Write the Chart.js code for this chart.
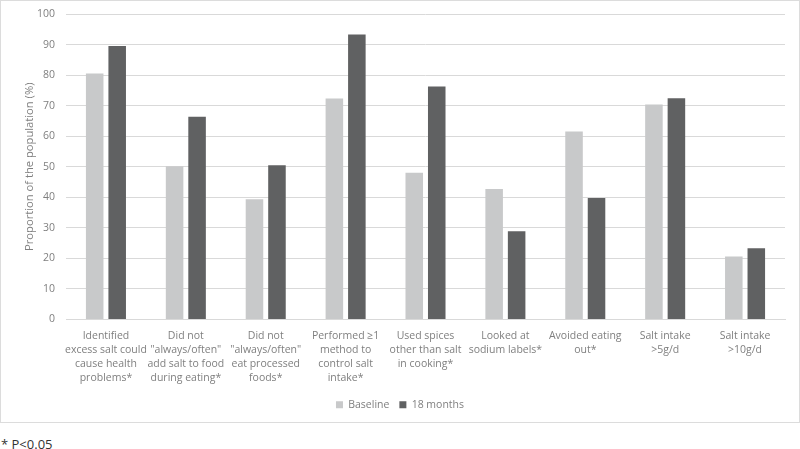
<!DOCTYPE html>
<html>
<head>
<meta charset="utf-8">
<script src="https://cdn.jsdelivr.net/npm/chart.js@4/dist/chart.umd.min.js"></script>
<style>
  html, body { margin: 0; padding: 0; background: #ffffff; width: 800px; height: 449px; overflow: hidden; }
  #box { position: absolute; left: 0; top: 0; width: 798px; height: 421px; border: 1px solid #dcdcdc; }
  #box canvas { display: block; }
  #note { position: absolute; left: 1px; top: 437px; font-family: "Open Sans", sans-serif; font-size: 13px; color: #333333; line-height: 15px; }
</style>
</head>
<body>
<div id="box"><canvas id="c" width="798" height="421"></canvas></div>
<div id="note">* P&lt;0.05</div>
<script>
const categories = [
  ["Identified", "excess salt could", "cause health", "problems*"],
  ["Did not", "\"always/often\"", "add salt to food", "during eating*"],
  ["Did not", "\"always/often\"", "eat processed", "foods*"],
  ["Performed \u22651", "method to", "control salt", "intake*"],
  ["Used spices", "other than salt", "in cooking*"],
  ["Looked at", "sodium labels*"],
  ["Avoided eating", "out*"],
  ["Salt intake", ">5g/d"],
  ["Salt intake", ">10g/d"]
];
const seriesNames = ["Baseline", "18 months"];
const baseline = [80.5, 50.2, 39.4, 72.3, 48.0, 42.7, 61.5, 70.4, 20.6];
const months18 = [89.5, 66.4, 50.5, 93.3, 76.3, 28.9, 39.8, 72.4, 23.3];
const yTicks = [0, 10, 20, 30, 40, 50, 60, 70, 80, 90, 100];

const FONT = "'Open Sans', sans-serif";
const grey = "#7f7f7f";

new Chart(document.getElementById("c"), {
  type: "bar",
  data: {
    labels: categories,
    datasets: [
      { label: seriesNames[0], data: baseline, backgroundColor: "#c8c9ca", borderWidth: 0,
        categoryPercentage: 0.563, barPercentage: 0.78 },
      { label: seriesNames[1], data: months18, backgroundColor: "#606162", borderWidth: 0,
        categoryPercentage: 0.563, barPercentage: 0.78 }
    ]
  },
  options: {
    responsive: false,
    animation: false,
    devicePixelRatio: 1,
    layout: { padding: { left: 14, right: 14, top: 13, bottom: 2 } },
    plugins: {
      tooltip: { enabled: false },
      legend: {
        position: "bottom",
        labels: {
          boxWidth: 7, boxHeight: 7, padding: 10,
          color: grey,
          font: { family: FONT, size: 10.5 }
        }
      }
    },
    scales: {
      x: {
        grid: { display: false, drawTicks: false },
        border: { display: true, color: "#d9d9d9", width: 1 },
        ticks: {
          color: grey, padding: 9, maxRotation: 0, autoSkip: false,
          font: { family: FONT, size: 10.5, lineHeight: 1.35 }
        },
        afterFit: (s) => { s.height = 70; }
      },
      y: {
        min: 0, max: 100,
        afterBuildTicks: (s) => { s.ticks = yTicks.map(v => ({ value: v })); },
        grid: { color: "#d9d9d9", lineWidth: 1, drawTicks: false },
        border: { display: false },
        ticks: {
          color: grey, padding: 11,
          font: { family: FONT, size: 10.5 }
        },
        title: {
          display: true, text: "Proportion of the population (%)",
          color: grey, padding: { top: 8, bottom: 0 },
          font: { family: FONT, size: 11.2 }
        },
        afterFit: (s) => { s.width = 51; s.paddingTop = 0; s.paddingBottom = 0; }
      }
    }
  }
});
</script>
</body>
</html>
